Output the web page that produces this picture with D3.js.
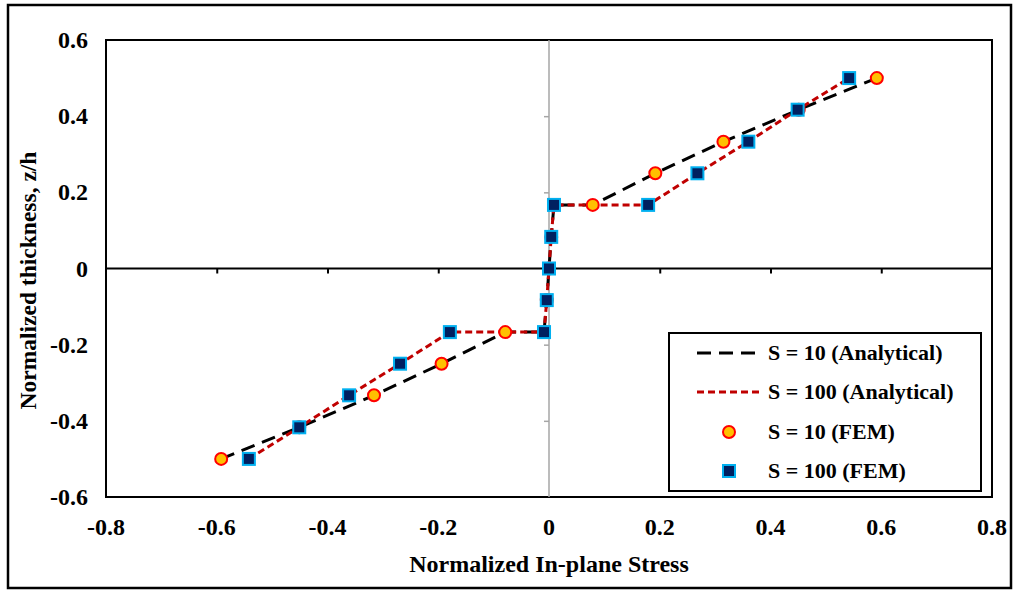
<!DOCTYPE html>
<html>
<head>
<meta charset="utf-8">
<script src="https://cdn.jsdelivr.net/npm/d3@7"></script>
<style>
  html, body { margin: 0; padding: 0; background: #fff; }
  svg { display: block; }
  text { font-family: "Liberation Serif", "Times New Roman", serif; font-weight: bold; fill: #000; }
</style>
</head>
<body>
<svg id="chart" width="1016" height="590"></svg>
<script>
// ---- data ----
const xTicks = [-0.8, -0.6, -0.4, -0.2, 0, 0.2, 0.4, 0.6, 0.8];
const yTicks = [-0.6, -0.4, -0.2, 0, 0.2, 0.4, 0.6];
const zLevels = [-0.5, -0.417, -0.333, -0.25, -0.167, -0.167, -0.083, 0, 0.083, 0.167, 0.167, 0.25, 0.333, 0.417, 0.5];
const stressS10 = [-0.592, -0.451, -0.316, -0.194, -0.079, -0.009, -0.004, 0, 0.004, 0.009, 0.079, 0.192, 0.315, 0.451, 0.592];
const stressS100 = [-0.542, -0.451, -0.361, -0.269, -0.179, -0.009, -0.004, 0, 0.004, 0.009, 0.179, 0.268, 0.36, 0.449, 0.542];
const legendLabels = ["S = 10 (Analytical)", "S = 100 (Analytical)", "S = 10 (FEM)", "S = 100 (FEM)"];

const svg = d3.select("#chart");
const plot = { left: 106, right: 992, top: 40, bottom: 497 };

// outer border
svg.append("rect").attr("x", 8).attr("y", 5).attr("width", 1003).attr("height", 583)
  .attr("fill", "#fff").attr("stroke", "#000").attr("stroke-width", 2.5);

const x = d3.scaleLinear().domain([-0.8, 0.8]).range([plot.left, plot.right]);
const y = d3.scaleLinear().domain([-0.6, 0.6]).range([plot.bottom, plot.top]);

// plot frame
svg.append("rect").attr("x", plot.left).attr("y", plot.top)
  .attr("width", plot.right - plot.left).attr("height", plot.bottom - plot.top)
  .attr("fill", "none").attr("stroke", "#000").attr("stroke-width", 2);

// vertical gray axis at x=0 with gray ticks
const yAxisG = svg.append("g").attr("transform", `translate(${x(0)},0)`)
  .call(d3.axisLeft(y).tickValues(yTicks.filter(v => v > -0.6 && v < 0.6)).tickSize(5).tickFormat(""));
yAxisG.select(".domain").remove();
yAxisG.selectAll("line").attr("stroke", "#a6a6a6").attr("stroke-width", 1.5);
svg.append("line").attr("x1", x(0)).attr("x2", x(0)).attr("y1", plot.top).attr("y2", plot.bottom)
  .attr("stroke", "#a6a6a6").attr("stroke-width", 1.5);

// horizontal axis at y=0 with ticks
const xAxisG = svg.append("g").attr("transform", `translate(0,${y(0)})`)
  .call(d3.axisBottom(x).tickValues(xTicks.filter(v => v > -0.8 && v < 0.8 && v !== 0)).tickSize(5).tickFormat(""));
xAxisG.select(".domain").remove();
xAxisG.selectAll("line").attr("stroke", "#000").attr("stroke-width", 2);
svg.append("line").attr("x1", plot.left).attr("x2", plot.right).attr("y1", y(0)).attr("y2", y(0))
  .attr("stroke", "#000").attr("stroke-width", 2);

// tick labels
const fmt = d => d3.format("")(d).replace("−", "-");
svg.append("g").selectAll("text").data(xTicks).join("text")
  .attr("x", d => x(d)).attr("y", 535).attr("text-anchor", "middle")
  .attr("font-size", 24).text(fmt);
svg.append("g").selectAll("text").data(yTicks).join("text")
  .attr("x", 88).attr("y", d => y(d) + 8).attr("text-anchor", "end")
  .attr("font-size", 24).text(fmt);

// axis titles
svg.append("text").attr("x", x(0)).attr("y", 572).attr("text-anchor", "middle")
  .attr("font-size", 24).text("Normalized In-plane Stress");
svg.append("text").attr("transform", `translate(36,${y(0) + 12}) rotate(-90)`).attr("text-anchor", "middle")
  .attr("font-size", 23.5).text("Normalized thickness, z/h");

// lines
const line = d3.line().x(d => x(d[0])).y(d => y(d[1]));
const s10 = stressS10.map((v, i) => [v, zLevels[i]]);
const s100 = stressS100.map((v, i) => [v, zLevels[i]]);

svg.append("path").datum(s10).attr("d", line).attr("fill", "none")
  .attr("stroke", "#000").attr("stroke-width", 3).attr("stroke-dasharray", "14,8");
svg.append("path").datum(s100).attr("d", line).attr("fill", "none")
  .attr("stroke", "#c00000").attr("stroke-width", 3).attr("stroke-dasharray", "7,4");

// markers
svg.append("g").selectAll("circle").data(s10).join("circle")
  .attr("cx", d => x(d[0])).attr("cy", d => y(d[1])).attr("r", 6)
  .attr("fill", "#ffc000").attr("stroke", "#ff0000").attr("stroke-width", 2);
svg.append("g").selectAll("rect").data(s100).join("rect")
  .attr("x", d => x(d[0]) - 6).attr("y", d => y(d[1]) - 6).attr("width", 12).attr("height", 12)
  .attr("fill", "#002060").attr("stroke", "#00b0f0").attr("stroke-width", 2);

// legend
const lg = svg.append("g");
lg.append("rect").attr("x", 669).attr("y", 333).attr("width", 312).attr("height", 158)
  .attr("fill", "#fff").attr("stroke", "#000").attr("stroke-width", 2);
const rowsY = [353, 392, 432, 471];
lg.append("line").attr("x1", 697).attr("x2", 760).attr("y1", rowsY[0]).attr("y2", rowsY[0])
  .attr("stroke", "#000").attr("stroke-width", 3).attr("stroke-dasharray", "14,8");
lg.append("line").attr("x1", 697).attr("x2", 760).attr("y1", rowsY[1]).attr("y2", rowsY[1])
  .attr("stroke", "#c00000").attr("stroke-width", 3).attr("stroke-dasharray", "7,4");
lg.append("circle").attr("cx", 729).attr("cy", rowsY[2]).attr("r", 6)
  .attr("fill", "#ffc000").attr("stroke", "#ff0000").attr("stroke-width", 2);
lg.append("rect").attr("x", 723).attr("y", rowsY[3] - 6).attr("width", 12).attr("height", 12)
  .attr("fill", "#002060").attr("stroke", "#00b0f0").attr("stroke-width", 2);
lg.selectAll("text").data(legendLabels).join("text")
  .attr("x", 768).attr("y", (d, i) => rowsY[i] + 7).attr("font-size", 22).text(d => d);
</script>
</body>
</html>
